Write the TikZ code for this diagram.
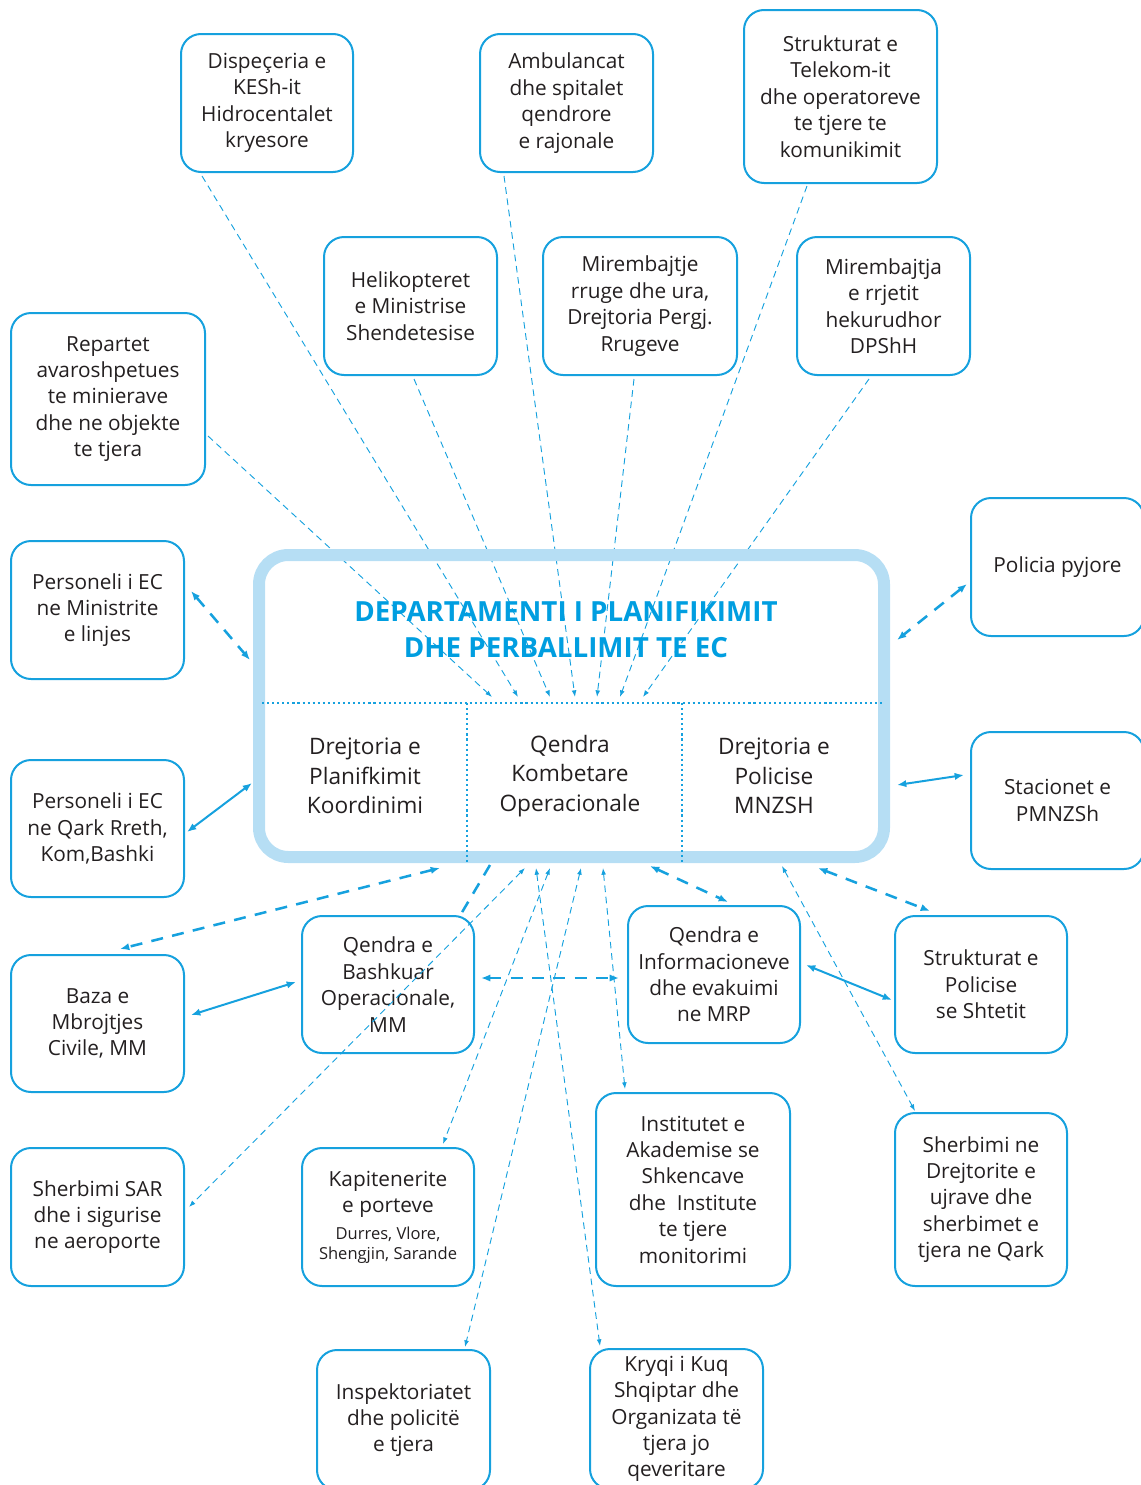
\documentclass[tikz,border=0pt]{standalone}
\usepackage{fontspec}
\setmainfont{Open Sans}
\usetikzlibrary{arrows.meta,calc}
\definecolor{cy}{RGB}{22,161,222}
\definecolor{lb}{RGB}{182,222,244}
\definecolor{tc}{RGB}{0,158,224}
\definecolor{tx}{RGB}{35,31,32}
\begin{document}
\begin{tikzpicture}[x=0.75pt,y=-0.75pt,
  wh/.style 2 args={minimum width=#1*0.75pt, minimum height=#2*0.75pt},
  box/.style={draw=cy, line width=1.5pt, rounded corners=15pt, align=center, inner sep=0pt, text=tx, font=\fontsize{15.6}{19.8}\selectfont},
  sub/.style={align=center, text=tx, font=\fontsize{17}{22}\selectfont},
  thn/.style={draw=cy, line width=0.7pt, dash pattern=on 5pt off 3.5pt},
  thk/.style={draw=cy, line width=1.9pt, dash pattern=on 9pt off 7pt},
  sld/.style={draw=cy, line width=1.5pt},
  dotln/.style={draw=cy, line width=1.6pt, dash pattern=on 1.6pt off 2.2pt},
  sm/.tip={Latex[length=5pt,width=3.6pt]},
  bg/.tip={Latex[length=7pt,width=5.5pt]}
]
\useasboundingbox (0,0) rectangle (1141,1485);

% boxes
\node[box,wh={172}{138}] (disp) at (267,103) {Dispeçeria e\\KESh-it\\Hidrocentalet\\kryesore};
\node[box,wh={173}{138}] (amb) at (566.5,103) {Ambulancat\\dhe spitalet\\qendrore\\e rajonale};
\node[box,wh={193}{173}] (tel) at (840.5,96.5) {Strukturat e\\Telekom-it\\dhe operatoreve\\te tjere te\\komunikimit};
\node[box,wh={173}{138}] (heli) at (410.5,306) {Helikopteret\\e Ministrise\\Shendetesise};
\node[box,wh={194}{138}] (mir) at (640,306) {Mirembajtje\\rruge dhe ura,\\Drejtoria Pergj.\\Rrugeve};
\node[box,wh={173}{138}] (hek) at (883.5,306) {Mirembajtja\\e rrjetit\\hekurudhor\\DPShH};
\node[box,wh={194}{172}] (rep) at (108,399) {Repartet\\avaroshpetues\\te minierave\\dhe ne objekte\\te tjera};
\node[box,wh={173}{138}] (pm) at (97.5,610) {Personeli i EC\\ne Ministrite\\e linjes};
\node[box,wh={173}{137}] (pq) at (97.5,828.5) {Personeli i EC\\ne Qark Rreth,\\Kom,Bashki};
\node[box,wh={173}{138}] (pp) at (1057.5,567) {Policia pyjore};
\node[box,wh={173}{137}] (st) at (1057.5,800.5) {Stacionet e\\PMNZSh};
\node[box,wh={173}{137}] (baza) at (97.5,1023.5) {Baza e\\Mbrojtjes\\Civile, MM};
\node[box,wh={172}{137}] (qb) at (388,984.5) {Qendra e\\Bashkuar\\Operacionale,\\MM};
\node[box,wh={172}{137}] (qi) at (714,974.5) {Qendra e\\Informacioneve\\dhe evakuimi\\ne MRP};
\node[box,wh={172}{137}] (sp) at (981,984.5) {Strukturat e\\Policise\\se Shtetit};
\node[box,wh={173}{138}] (sar) at (97.5,1217) {Sherbimi SAR\\dhe i sigurise\\ne aeroporte};
\node[box,wh={172}{138}] (kap) at (388,1217) {Kapitenerite\\e porteve\\{\fontsize{12.4}{15}\selectfont Durres, Vlore,}\\[-4.8pt]{\fontsize{12.4}{15}\selectfont Shengjin, Sarande}};
\node[box,wh={194}{193}] (inst) at (693,1189.5) {Institutet e\\Akademise se\\Shkencave\\dhe\ \ Institute\\te tjere\\monitorimi};
\node[box,wh={172}{173}] (sd) at (981,1199.5) {Sherbimi ne\\Drejtorite e\\ujrave dhe\\sherbimet e\\tjera ne Qark};
\node[box,wh={173}{140}] (insp) at (403.5,1420) {Inspektoriatet\\dhe policitë\\e tjera};
\node[box,wh={173}{140}] (kr) at (676.5,1419) {Kryqi i Kuq\\Shqiptar dhe\\Organizata të\\tjera jo\\qeveritare};

% coordinates on the central department box
\coordinate (cRep) at (492,697);
\coordinate (cDisp) at (518,697);
\coordinate (cHeli) at (550,697);
\coordinate (cAmb) at (575,697);
\coordinate (cMir) at (597,697);
\coordinate (cTel) at (620,697);
\coordinate (cHek) at (643,697);
\coordinate (cSar) at (525,868);
\coordinate (cKr) at (536,868);
\coordinate (cKap) at (550,868);
\coordinate (cInsp) at (581,868);
\coordinate (cInst) at (603,868);
\coordinate (cSd) at (782,866);
\coordinate (cBaza) at (440,868);
\coordinate (cQb) at (490,865);
\coordinate (cQi) at (650,866);
\coordinate (cSp) at (818,868);
\coordinate (cPm) at (250,660);
\coordinate (cPp) at (897,640);
\coordinate (cPq) at (252,783);
\coordinate (cSt) at (897,785);

% thin dashed connectors from the top
\draw[thn,-sm] ($(rep.north east)+(2,124)$) -- (cRep);
\draw[thn,-sm] ($(disp.south west)+(22,3)$) -- (cDisp);
\draw[thn,-sm] ($(heli.south west)+(91,3)$) -- (cHeli);
\draw[thn,-sm] ($(amb.south west)+(25,3)$) -- (cAmb);
\draw[thn,-sm] ($(mir.south west)+(92,3)$) -- (cMir);
\draw[thn,-sm] ($(tel.south west)+(64,2)$) -- (cTel);
\draw[thn,-sm] ($(hek.south west)+(73,3)$) -- (cHek);

% thin dashed connectors to the bottom
\draw[thn,sm-sm] (cSar) -- ($(sar.east)+(4,-10)$);
\draw[thn,sm-sm] (cKr) -- ($(kr.north)+(-76.5,-2)$);
\draw[thn,sm-sm] (cKap) -- ($(kap.north)+(55,-3)$);
\draw[thn,sm-sm] (cInsp) -- ($(insp.north)+(61.5,-2)$);
\draw[thn,sm-sm] (cInst) -- ($(inst.north)+(-68,-3)$);
\draw[thn,sm-sm] (cSd) -- ($(sd.north)+(-66,-1)$);

% thick dashed connectors
\draw[thk,bg-bg] (cBaza) -- ($(baza.north)+(22.5,-5)$);
\draw[thk] (cQb) -- ($(qb.north east)+(-14,-1)$);
\draw[thk,bg-bg] ($(qb.east)+(6,-6.5)$) -- ($(qi.west)+(-8,3.5)$);
\draw[thk,bg-bg] (cQi) -- ($(qi.north)+(14,-3)$);
\draw[thk,bg-bg] (cSp) -- ($(sp.north)+(-51,-4)$);
\draw[thk,bg-bg] ($(pm.north east)+(6,51)$) -- (cPm);
\draw[thk,bg-bg] ($(pp.west)+(-3,17)$) -- (cPp);

% solid connectors
\draw[sld,bg-bg] ($(pq.east)+(2,3.5)$) -- (cPq);
\draw[sld,bg-bg] ($(st.west)+(-6,-25.5)$) -- (cSt);
\draw[sld,bg-bg] ($(baza.east)+(6,-8.5)$) -- ($(qb.west)+(-5,-2.5)$);
\draw[sld,bg-bg] ($(qi.east)+(5,-9.5)$) -- ($(sp.west)+(-2,15.5)$);

% central department box
\node[draw=lb, line width=9pt, rounded corners=22pt, wh={625}{302}] (dep) at (571.5,706) {};
\coordinate (hl) at (262,703);
\coordinate (hr) at (883,703);
\coordinate (v1) at (467,703);
\coordinate (v2) at (682,703);
\draw[dotln] (hl) -- (hr);
\draw[dotln] (v1) -- (v1 |- dep.south);
\draw[dotln] (v2) -- (v2 |- dep.south);

\node[align=center, text=tc, font=\fontsize{20.8}{27}\selectfont\bfseries] (title) at (566,630) {DEPARTAMENTI I PLANIFIKIMIT\\DHE PERBALLIMIT TE EC};
\node[sub] (dpk) at (365,776) {Drejtoria e\\Planifkimit\\Koordinimi};
\node[sub] (qko) at (570,776) {Qendra\\Kombetare\\Operacionale};
\node[sub] (dpm) at (774,776) {Drejtoria e\\Policise\\MNZSH};
\end{tikzpicture}
\end{document}
